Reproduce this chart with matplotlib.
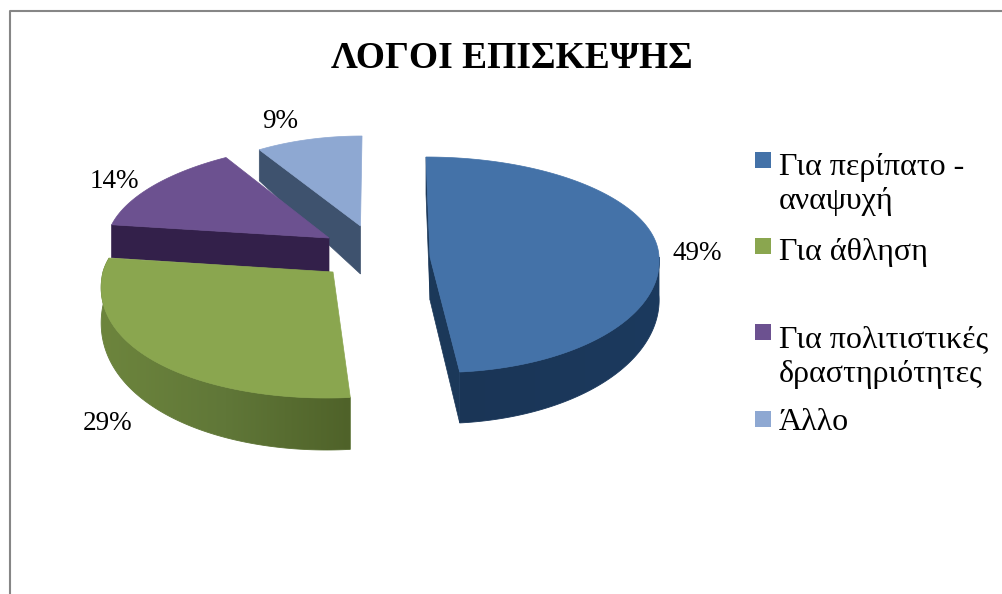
#!/usr/bin/env python
import numpy as np
import matplotlib

matplotlib.use('Agg')

import matplotlib.pyplot as plt
from matplotlib.colors import LinearSegmentedColormap
from matplotlib.patches import Polygon, Rectangle

title = 'ΛΟΓΟΙ ΕΠΙΣΚΕΨΗΣ'
categories = ['Για περίπατο -\nαναψυχή', 'Για άθληση', 'Για πολιτιστικές\nδραστηριότητες', 'Άλλο']
values = [49, 29, 14, 9]

plt.rcParams['font.family'] = ['Liberation Serif', 'DejaVu Serif']

# one entry per slice, the look of the exploded 3d pie (pixel units)
top_colors = ['#4472a8', '#8aa64f', '#6c5190', '#8ea8d2']
wall_colors = ['#1b3859', '#5e7533', '#33204a', '#3e526e']
rim_colors = [('#1a3556', '#1c3a5e'), ('#6d853d', '#607738', '#4f6229'), None, None]
centers = [(430, 257), (333, 272), (329, 238), (360.5, 226)]
rx = [229, 230, 222, 193]
ry_far = [100, 100, 95, 90]
ry_near = [115.5, 126, 95, 90]
shear_far = [0.04, -0.05, -0.185, -0.017]
shear_near = [0.073, -0.05, -0.185, -0.017]
taper = [0, 0.1, 0, 0]
depth_mid = [38, 33, 33, 31]
depth_near = [51, 52, 33, 31]
rim_range = [(90, None), (None, 278), None, None]
# (which edge, depth at centre, depth at rim)
walls = [[(0, 43, 37), (1, 43, 51)], [], [(0, 34, 33)], [(0, 48, 31)]]

label_pos = [(697, 253), (108, 424), (114, 182), (280, 121)]
marker_y = [160, 246, 331.5, 419]
text_y = [209, 260, 382, 430]

fractions = np.array(values) / sum(values)
starts = np.concatenate([[0], np.cumsum(fractions)[:-1]]) * 360
ends = np.cumsum(fractions) * 360


def point(i, t):
    t = np.radians(t)
    v = np.cos(t)
    dy = -v * np.where(v > 0, ry_far[i], ry_near[i])
    k = np.where(v > 0, shear_far[i], shear_near[i])
    return centers[i][0] + rx[i] * np.sin(t) * (1 - taper[i] * v) + k * dy, centers[i][1] + dy


def depth(i, t):
    v = np.cos(np.radians(t))
    return depth_mid[i] + (depth_near[i] - depth_mid[i]) * np.maximum(-v, 0)


fig = plt.figure(figsize=(10.03, 5.94), dpi=100)
ax = fig.add_axes([0, 0, 1, 1])

ax.plot([10, 10, 1003], [594, 11, 11], color='#868686', lw=1.5, zorder=1)

z = 2
for i in [3, 2, 1, 0]:
    c = centers[i]
    ts = np.linspace(starts[i], ends[i], 200)
    x, y = point(i, ts)

    # side walls
    for edge, d_c, d_r in walls[i]:
        ex, ey = point(i, ends[i] if edge else starts[i])
        ax.add_patch(Polygon([(ex, ey), c, (c[0], c[1] + d_c), (ex, ey + d_r)], closed=True,
                             fc=wall_colors[i], ec=wall_colors[i], lw=0.5, zorder=z))

    # outer rim, a gradient clipped to the rim shape
    if rim_colors[i]:
        a = rim_range[i][0] if rim_range[i][0] is not None else starts[i]
        b = rim_range[i][1] if rim_range[i][1] is not None else ends[i]
        tr = np.linspace(a, b, 120)
        px, py = point(i, tr)
        py2 = py + depth(i, tr)
        outline = np.vstack([np.column_stack([px, py]), np.column_stack([px, py2])[::-1]])
        rim = Polygon(outline, closed=True, fc='none', ec=rim_colors[i][1], lw=0.6, zorder=z + 1)
        ax.add_patch(rim)
        cmap = LinearSegmentedColormap.from_list('rim', rim_colors[i])
        im = ax.imshow(np.linspace(0, 1, 256).reshape(1, -1), cmap=cmap, aspect='auto',
                       extent=[px.min(), px.max(), py2.max(), py.min()], zorder=z + 1)
        im.set_clip_path(rim)

    # top face
    ax.add_patch(Polygon(np.vstack([[c], np.column_stack([x, y])]), closed=True,
                         fc=top_colors[i], ec=top_colors[i], lw=0.5, zorder=z + 2))
    z += 3

ax.set_xlim(0, 1003)
ax.set_ylim(594, 0)
ax.axis('off')

for i, v in enumerate(values):
    ax.text(label_pos[i][0], label_pos[i][1], f'{v}%', fontsize=19.5, color='black',
            ha='center', va='center', zorder=50)

ax.text(512, 59, title, fontsize=27, fontweight='bold', color='black', ha='center', va='center', zorder=50)

for i, cat in enumerate(categories):
    ax.add_patch(Rectangle((755, marker_y[i] - 8), 16, 16, fc=top_colors[i], ec='none', zorder=50))
    ax.text(779, text_y[i], cat, fontsize=23, color='black', ha='left', va='baseline',
            linespacing=1.25, zorder=50)

plt.savefig('out.png', dpi=100)
plt.close()
